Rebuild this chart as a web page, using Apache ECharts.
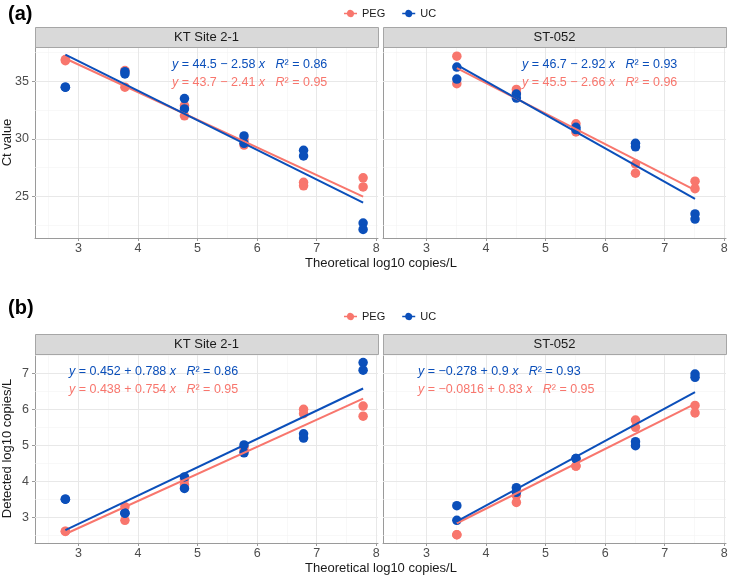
<!DOCTYPE html>
<html>
<head>
<meta charset="utf-8">
<script src="https://cdn.jsdelivr.net/npm/echarts@6/dist/echarts.min.js"></script>
<style>
  html, body { margin: 0; padding: 0; background: #fff; }
  #chart { width: 729px; height: 577px; }
</style>
</head>
<body>
<div id="chart"></div>
<script>
// replicate x positions (theoretical log10 copies/L)
var xKT = [2.78, 2.78, 3.78, 3.78, 4.78, 4.78, 5.78, 5.78, 6.78, 6.78, 7.78, 7.78];
var xST = [3.51, 3.51, 4.51, 4.51, 5.51, 5.51, 6.51, 6.51, 7.51, 7.51];

// (a) Ct values
var ctKtPeg = [36.9, 36.8, 35.95, 34.5, 32.9, 32.0, 29.9, 29.45, 26.2, 25.9, 26.6, 25.8];
var ctKtUc = [34.5, 34.5, 35.85, 35.65, 33.5, 32.6, 30.25, 29.6, 29.0, 28.5, 22.65, 22.1];
var ctStPeg = [37.2, 34.8, 34.3, 34.0, 31.3, 30.6, 27.8, 27.0, 26.3, 25.65];
var ctStUc = [36.25, 35.2, 33.9, 33.55, 31.0, 30.8, 29.6, 29.3, 23.45, 23.0];

// (b) detected log10 copies/L
var detKtPeg = [2.61, 2.6, 3.29, 2.91, 4.05, 3.91, 4.95, 4.85, 6.0, 5.88, 6.09, 5.81];
var detKtUc = [3.5, 3.5, 3.11, 3.11, 4.12, 3.8, 5.01, 4.79, 5.32, 5.2, 7.3, 7.09];
var detStPeg = [2.51, 2.51, 3.6, 3.41, 4.42, 4.42, 5.7, 5.5, 6.11, 5.9];
var detStUc = [3.32, 2.91, 3.82, 3.69, 4.63, 4.63, 5.1, 4.99, 6.98, 6.89];

// fitted line end points
var fitAKtPeg = [[2.78, 37.0], [7.78, 24.95]];
var fitAKtUc = [[2.78, 37.33], [7.78, 24.43]];
var fitAStPeg = [[3.51, 36.16], [7.51, 25.52]];
var fitAStUc = [[3.51, 36.45], [7.51, 24.77]];
var fitBKtPeg = [[2.78, 2.53], [7.78, 6.30]];
var fitBKtUc = [[2.78, 2.64], [7.78, 6.58]];
var fitBStPeg = [[3.51, 2.83], [7.51, 6.15]];
var fitBStUc = [[3.51, 2.88], [7.51, 6.48]];

// equation texts
var eqAKt = [['44.5 − 2.58', '0.86'], ['43.7 − 2.41', '0.95']];
var eqASt = [['46.7 − 2.92', '0.93'], ['45.5 − 2.66', '0.96']];
var eqBKt = [['0.452 + 0.788', '0.86'], ['0.438 + 0.754', '0.95']];
var eqBSt = [['−0.278 + 0.9', '0.93'], ['−0.0816 + 0.83', '0.95']];

var facets = ['KT Site 2-1', 'ST-052'];
var xTicks = [3, 4, 5, 6, 7, 8];
var xMinor = [2.5, 3.5, 4.5, 5.5, 6.5, 7.5];
var yTicksA = [25, 30, 35];
var yMinorA = [22.5, 27.5, 32.5, 37.5];
var yTicksB = [3, 4, 5, 6, 7];
var yMinorB = [2.5, 3.5, 4.5, 5.5, 6.5, 7.5];

var PEG = '#F8766D';
var UC = '#0B4FBA';
var FONT = 'Liberation Sans, Arial, sans-serif';

var chart = echarts.init(document.getElementById('chart'));

var grids = [
  { left: 35, top: 47, width: 343, height: 191 },
  { left: 383, top: 47, width: 343, height: 191 },
  { left: 35, top: 354, width: 343, height: 189 },
  { left: 383, top: 354, width: 343, height: 189 }
];

function zip(xs, ys) {
  return xs.map(function (x, i) { return [x, ys[i]]; });
}

function xAxis(i) {
  return {
    type: 'value', gridIndex: i, min: 2.27, max: 8.03,
    axisLine: { show: true, lineStyle: { color: '#9a9a9a', width: 1 } },
    axisTick: { show: true, length: 3, customValues: xTicks, lineStyle: { color: '#9a9a9a' } },
    axisLabel: { customValues: xTicks, color: '#4d4d4d', fontSize: 12.5, fontFamily: FONT, margin: 4 },
    splitLine: { show: false }
  };
}

function yAxis(i, min, max, ticks, name) {
  var left = i % 2 === 0;
  return {
    type: 'value', gridIndex: i, min: min, max: max,
    name: left ? name : '', nameLocation: 'middle', nameGap: 21, nameMoveOverlap: false,
    nameTextStyle: { color: '#1a1a1a', fontSize: 13, fontFamily: FONT },
    axisLine: { show: true, lineStyle: { color: '#9a9a9a', width: 1 } },
    axisTick: { show: left, length: 3, customValues: ticks, lineStyle: { color: '#9a9a9a' } },
    axisLabel: { show: left, customValues: ticks, color: '#4d4d4d', fontSize: 12.5, fontFamily: FONT, margin: 6 },
    splitLine: { show: false }
  };
}

function gridLines(i, yMaj, yMin) {
  var data = [];
  xMinor.forEach(function (v) { data.push({ xAxis: v, lineStyle: { color: '#f4f4f4', width: 0.6 } }); });
  yMin.forEach(function (v) { data.push({ yAxis: v, lineStyle: { color: '#f4f4f4', width: 0.6 } }); });
  xTicks.forEach(function (v) { data.push({ xAxis: v, lineStyle: { color: '#e8e8e8', width: 1 } }); });
  yMaj.forEach(function (v) { data.push({ yAxis: v, lineStyle: { color: '#e8e8e8', width: 1 } }); });
  return {
    type: 'scatter', xAxisIndex: i, yAxisIndex: i, data: [], z: 1, silent: true,
    markLine: { silent: true, z: 1, symbol: 'none', animation: false, label: { show: false }, lineStyle: { type: 'solid' }, data: data }
  };
}

function pts(name, i, xs, ys, color) {
  return {
    name: name, type: 'scatter', xAxisIndex: i, yAxisIndex: i, z: 3,
    symbolSize: 9.5, itemStyle: { color: color, opacity: 1 }, data: zip(xs, ys)
  };
}

function fit(name, i, d, color) {
  return {
    name: name, type: 'line', xAxisIndex: i, yAxisIndex: i, z: 4,
    showSymbol: false, symbol: 'none', lineStyle: { color: color, width: 2 }, data: d
  };
}

var series = [
  gridLines(0, yTicksA, yMinorA), gridLines(1, yTicksA, yMinorA),
  gridLines(2, yTicksB, yMinorB), gridLines(3, yTicksB, yMinorB),
  pts('PEG', 0, xKT, ctKtPeg, PEG), pts('UC', 0, xKT, ctKtUc, UC),
  pts('PEG', 1, xST, ctStPeg, PEG), pts('UC', 1, xST, ctStUc, UC),
  pts('PEG', 2, xKT, detKtPeg, PEG), pts('UC', 2, xKT, detKtUc, UC),
  pts('PEG', 3, xST, detStPeg, PEG), pts('UC', 3, xST, detStUc, UC),
  fit('PEG', 0, fitAKtPeg, PEG), fit('UC', 0, fitAKtUc, UC),
  fit('PEG', 1, fitAStPeg, PEG), fit('UC', 1, fitAStUc, UC),
  fit('PEG', 2, fitBKtPeg, PEG), fit('UC', 2, fitBKtUc, UC),
  fit('PEG', 3, fitBStPeg, PEG), fit('UC', 3, fitBStUc, UC)
];

var legendIcon = 'path://M0,9 H4.1 A5,5 0 0 1 13.9,9 H18 V11 H13.9 A5,5 0 0 1 4.1,11 H0 Z';
function legend(top) {
  return {
    top: top, left: 339, itemWidth: 13, itemHeight: 8, itemGap: 17,
    textStyle: { fontSize: 11, color: '#1a1a1a', fontFamily: FONT },
    data: [{ name: 'PEG', icon: legendIcon }, { name: 'UC', icon: legendIcon }],
    selectedMode: false
  };
}

var graphic = [];
grids.forEach(function (g, i) {
  g.outerBoundsMode = 'none';
  g.containLabel = false;
  graphic.push({
    type: 'rect', left: g.left, top: g.top - 20,
    shape: { width: g.width, height: 20 },
    style: { fill: '#d9d9d9', stroke: '#a6a6a6', lineWidth: 1 }, z: 10
  });
  graphic.push({
    type: 'text', x: g.left + g.width / 2, y: g.top - 10,
    style: { text: facets[i % 2], fill: '#1a1a1a', font: '13px ' + FONT, textAlign: 'center', textVerticalAlign: 'middle' }, z: 11
  });
});

function equation(x, y, eq) {
  [UC, PEG].forEach(function (c, k) {
    graphic.push({
      type: 'text', x: x, y: y + k * 18, z: 12,
      style: {
        text: '{i|y} = ' + eq[k][0] + ' {i|x}   {i|R}² = ' + eq[k][1],
        fill: c, fontSize: 12.5, fontFamily: FONT, textVerticalAlign: 'middle',
        rich: {
          i: { fontStyle: 'italic', fontSize: 12.5, fontFamily: FONT, fill: c }
        }
      }
    });
  });
}
equation(172, 65, eqAKt);
equation(522, 65, eqASt);
equation(69, 372, eqBKt);
equation(418, 372, eqBSt);

graphic.push({ type: 'text', x: 8, y: 14, style: { text: '(a)', font: 'bold 20px ' + FONT, fill: '#000', textVerticalAlign: 'middle' } });
graphic.push({ type: 'text', x: 8, y: 308, style: { text: '(b)', font: 'bold 20px ' + FONT, fill: '#000', textVerticalAlign: 'middle' } });
graphic.push({ type: 'text', x: 381, y: 263, style: { text: 'Theoretical log10 copies/L', font: '13px ' + FONT, fill: '#1a1a1a', textAlign: 'center', textVerticalAlign: 'middle' } });
graphic.push({ type: 'text', x: 381, y: 568, style: { text: 'Theoretical log10 copies/L', font: '13px ' + FONT, fill: '#1a1a1a', textAlign: 'center', textVerticalAlign: 'middle' } });

chart.setOption({
  animation: false,
  backgroundColor: '#fff',
  grid: grids,
  legend: [legend(3), legend(306)],
  xAxis: [xAxis(0), xAxis(1), xAxis(2), xAxis(3)],
  yAxis: [
    yAxis(0, 21.35, 38.0, yTicksA, 'Ct value'),
    yAxis(1, 21.35, 38.0, yTicksA, ''),
    yAxis(2, 2.28, 7.54, yTicksB, 'Detected log10 copies/L'),
    yAxis(3, 2.28, 7.54, yTicksB, '')
  ],
  series: series,
  graphic: graphic
});
</script>
</body>
</html>
